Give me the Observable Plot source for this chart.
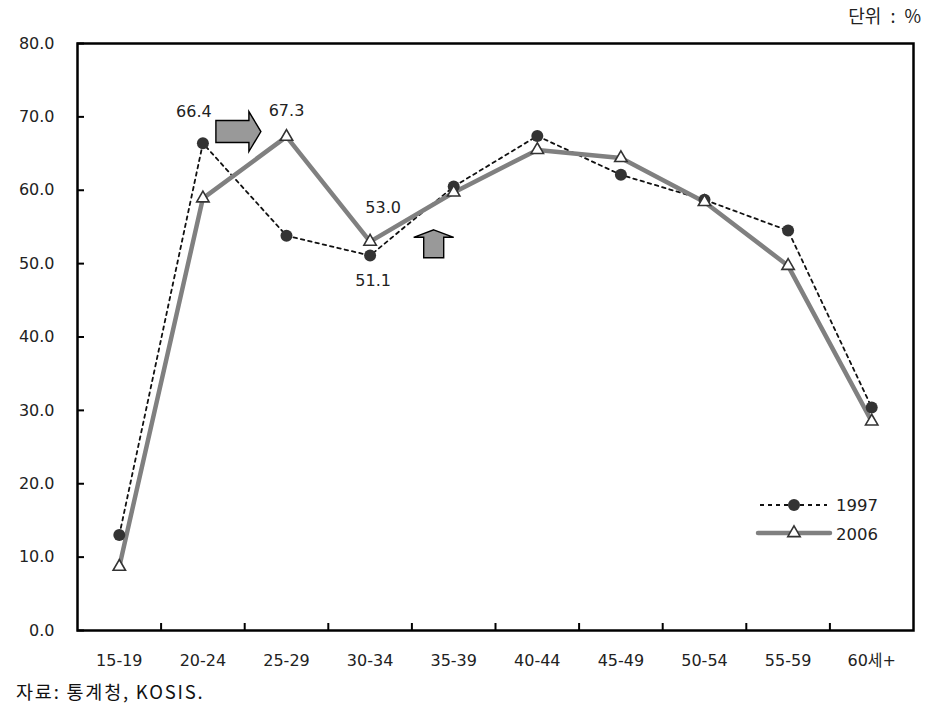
<!DOCTYPE html>
<html><head><meta charset="utf-8">
<script src="https://cdn.jsdelivr.net/npm/d3@7"></script>
<script src="https://cdn.jsdelivr.net/npm/@observablehq/plot@0.6"></script>
<style>
body{margin:0;background:#fff;}
#wrap{position:relative;width:943px;height:719px;overflow:hidden;background:#fff}
#unit{position:absolute;top:2px;right:22px;font-size:18px;word-spacing:5px;font-family:"Noto Sans CJK KR",sans-serif;color:#222;white-space:pre}
#chart{position:absolute;top:30px;left:0}
#caption{position:absolute;left:16px;top:678px;font-size:18.5px;letter-spacing:1.8px;font-family:"Noto Sans CJK KR",sans-serif;color:#111}
#legend{position:absolute;left:0;top:0;pointer-events:none}
</style></head>
<body><div id="wrap">
<div id="unit">단위 : %</div>
<div id="chart"></div>
<div id="caption">자료: 통계청, KOSIS.</div>
</div>
<script>
const categories = ["15-19","20-24","25-29","30-34","35-39","40-44","45-49","50-54","55-59","60세+"];
const values1997 = [13.0, 66.4, 53.8, 51.1, 60.5, 67.4, 62.1, 58.7, 54.5, 30.4];
const values2006 = [8.7, 58.9, 67.3, 53.0, 59.7, 65.5, 64.4, 58.4, 49.7, 28.5];
const yTicks = [0, 10, 20, 30, 40, 50, 60, 70, 80];
const seriesNames = ["1997", "2006"];

const data1997 = categories.map((c, i) => ({cat: c, v: values1997[i]}));
const data2006 = categories.map((c, i) => ({cat: c, v: values2006[i]}));

const W = 943, H = 650, mL = 77, mR = 30, mT = 13, mB = 50;
const plotW = W - mL - mR, plotH = H - mT - mB;
const bw = plotW / categories.length;

// block arrow symbols (annotation glyphs)
const rightArrow = {draw(c){ c.moveTo(-22.5,-11); c.lineTo(10.5,-11); c.lineTo(10.5,-20); c.lineTo(22.5,0); c.lineTo(10.5,20); c.lineTo(10.5,11); c.lineTo(-22.5,11); c.closePath(); }};
const upArrow = {draw(c){ c.moveTo(0,-14); c.lineTo(20,-6.5); c.lineTo(10,-6.5); c.lineTo(10,14); c.lineTo(-10,14); c.lineTo(-10,-6.5); c.lineTo(-20,-6.5); c.closePath(); }};

const font = "'DejaVu Sans','Noto Sans CJK KR',sans-serif";

const chart = Plot.plot({
  width: W, height: H,
  marginLeft: mL, marginRight: mR, marginTop: mT, marginBottom: mB,
  style: {fontFamily: font, fontSize: "16px", color: "#222", background: "transparent"},
  x: {type: "band", domain: categories, padding: 0, round: false, label: null},
  y: {domain: [0, 80], label: null},
  marks: [
    Plot.axisY(yTicks, {tickSize: 0, tickPadding: 23, tickFormat: d => d.toFixed(1), fontSize: 16, label: null}),
    Plot.tickY(yTicks, {y: d => d, insetRight: plotW - 7, stroke: "#000", strokeWidth: 2}),
    Plot.axisX({tickSize: 0, tickPadding: 24, fontSize: 16, label: null}),
    Plot.tickX(categories.slice(1), {x: d => d, dx: -bw / 2, insetTop: plotH - 7, stroke: "#000", strokeWidth: 2}),
    Plot.frame({stroke: "#000", strokeWidth: 2.5}),
    Plot.line(data1997, {x: "cat", y: "v", stroke: "#111", strokeWidth: 1.8, strokeDasharray: "3.5,4"}),
    Plot.line(data2006, {x: "cat", y: "v", stroke: "#808080", strokeWidth: 4.5}),
    Plot.dot(data1997, {x: "cat", y: "v", r: 6, fill: "#333", stroke: "none"}),
    Plot.dot(data2006, {x: "cat", y: "v", symbol: "triangle", r: 4.6, fill: "white", stroke: "#333", strokeWidth: 1.6}),
    // annotation arrows
    Plot.dot([{cat: "20-24", v: 68.0}], {x: "cat", y: "v", dx: 35.5, symbol: rightArrow, fill: "#999", stroke: "#000", strokeWidth: 1.4}),
    Plot.dot([{cat: "35-39", v: 52.7}], {x: "cat", y: "v", dx: -20, symbol: upArrow, fill: "#999", stroke: "#000", strokeWidth: 1.4}),
    // value labels
    Plot.text([data1997[1]], {x: "cat", y: "v", text: d => d.v.toFixed(1), dx: -9, dy: -31, fill: "#222", fontSize: 16}),
    Plot.text([data2006[2]], {x: "cat", y: "v", text: d => d.v.toFixed(1), dx: 0, dy: -26, fill: "#222", fontSize: 16}),
    Plot.text([data2006[3]], {x: "cat", y: "v", text: d => d.v.toFixed(1), dx: 13, dy: -34, fill: "#222", fontSize: 16}),
    Plot.text([data1997[3]], {x: "cat", y: "v", text: d => d.v.toFixed(1), dx: 3, dy: 25, fill: "#222", fontSize: 16})
  ]
});
document.getElementById("chart").appendChild(chart);

// legend overlay
const leg = d3.select("#wrap").append("svg").attr("id", "legend").attr("width", 943).attr("height", 719);
const g1 = leg.append("g");
g1.append("line").attr("x1", 760).attr("x2", 827).attr("y1", 505).attr("y2", 505)
  .attr("stroke", "#111").attr("stroke-width", 1.8).attr("stroke-dasharray", "4,4");
g1.append("circle").attr("cx", 794).attr("cy", 505).attr("r", 6).attr("fill", "#333");
g1.append("text").attr("x", 836).attr("y", 505).attr("dy", "0.35em").text(seriesNames[0])
  .attr("font-family", font).attr("font-size", 16.5).attr("fill", "#222");
const g2 = leg.append("g");
g2.append("line").attr("x1", 758).attr("x2", 830).attr("y1", 533).attr("y2", 533)
  .attr("stroke", "#808080").attr("stroke-width", 4.5).attr("stroke-linecap", "round");
g2.append("path").attr("d", d3.symbol(d3.symbolTriangle, Math.PI * 4.6 * 4.6)()).attr("transform", "translate(794,533)")
  .attr("fill", "white").attr("stroke", "#333").attr("stroke-width", 1.6);
g2.append("text").attr("x", 836).attr("y", 534).attr("dy", "0.35em").text(seriesNames[1])
  .attr("font-family", font).attr("font-size", 16.5).attr("fill", "#222");
</script>
</body></html>
